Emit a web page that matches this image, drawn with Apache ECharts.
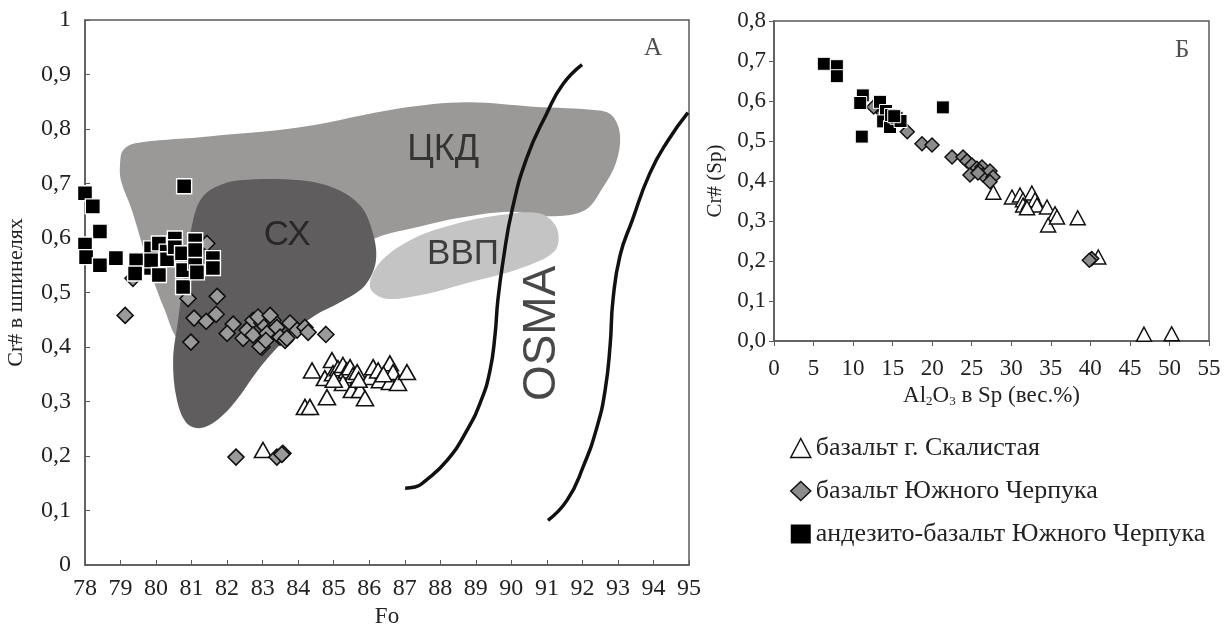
<!DOCTYPE html>
<html><head><meta charset="utf-8">
<script src="https://cdn.jsdelivr.net/npm/echarts@6/dist/echarts.min.js"></script>
<style>html,body{margin:0;padding:0;background:#fff}#c{width:1229px;height:625px}</style>
</head><body><div id="c"></div>
<script>
// ---------- Panel A: Cr# in spinel vs Fo ----------
const fieldCKD = [[78.99,0.739],[79.07,0.761],[79.41,0.774],[81.24,0.785],[84.05,0.803],[86.87,0.838],[88.75,0.849],[90.61,0.841],[92.49,0.834],[92.86,0.823],[93.06,0.788],[92.95,0.739],[92.58,0.693],[92.07,0.651],[91.09,0.640],[89.96,0.648],[88.55,0.637],[87.43,0.621],[86.22,0.601],[85.18,0.568],[82.93,0.486],[81.24,0.431],[80.67,0.412],[80.25,0.467],[79.83,0.541],[79.32,0.651],[79.01,0.706]];
const fieldCX = [[81.24,0.669],[81.66,0.693],[82.36,0.706],[84.05,0.706],[85.04,0.691],[85.74,0.660],[86.08,0.614],[86.19,0.559],[85.88,0.513],[85.18,0.482],[84.47,0.458],[83.77,0.422],[82.98,0.367],[82.08,0.288],[81.38,0.253],[80.90,0.258],[80.59,0.302],[80.48,0.376],[80.62,0.449],[80.81,0.541],[81.01,0.623]];
const fieldVVP = [[86.02,0.510],[86.30,0.555],[87.15,0.596],[88.27,0.623],[89.68,0.642],[90.81,0.645],[91.28,0.618],[91.23,0.577],[90.24,0.544],[88.84,0.519],[87.43,0.495],[86.44,0.489]];
const curveOSMA1 = [[87.01,0.141],[87.29,0.143],[87.57,0.154],[88.19,0.192],[88.75,0.247],[89.15,0.302],[89.40,0.357],[89.54,0.422],[89.62,0.486],[89.77,0.559],[90.02,0.651],[90.44,0.748],[91.00,0.829],[91.45,0.882],[91.99,0.918]];
const curveOSMA2 = [[91.03,0.082],[91.57,0.119],[92.02,0.180],[92.41,0.253],[92.64,0.321],[92.78,0.403],[92.86,0.486],[93.06,0.568],[93.40,0.632],[93.90,0.719],[94.41,0.779],[94.97,0.830]];
const fieldLabels = [
  {name:'ЦКД', value:[88.08,0.761], size:36, rotate:0},
  {name:'СХ', value:[83.69,0.605], size:35, rotate:0},
  {name:'ВВП', value:[88.64,0.570], size:35, rotate:0},
  {name:'OSMA', value:[90.86,0.425], size:46, rotate:90}
];
const leftTriangles = [[84.39,0.357],[84.19,0.290],[84.33,0.290],[84.95,0.376],[84.75,0.343],[84.81,0.308],[84.98,0.352],[85.12,0.361],[85.26,0.367],[85.37,0.357],[85.46,0.363],[85.54,0.348],[85.26,0.334],[85.66,0.354],[85.51,0.321],[85.74,0.321],[85.88,0.306],[86.02,0.345],[86.11,0.363],[86.25,0.357],[86.30,0.339],[86.58,0.370],[86.58,0.336],[86.67,0.354],[86.81,0.334],[87.06,0.354],[83.01,0.211],[85.00,0.340],[85.70,0.340],[86.40,0.350]];
const leftDiamonds = [[79.13,0.458],[80.90,0.489],[81.72,0.493],[79.35,0.526],[81.43,0.590],[81.07,0.453],[81.41,0.447],[81.69,0.460],[80.98,0.409],[82.17,0.442],[82.00,0.425],[82.45,0.416],[82.56,0.431],[82.73,0.449],[82.73,0.422],[82.98,0.444],[82.98,0.400],[83.12,0.425],[83.29,0.449],[83.40,0.436],[83.49,0.418],[83.63,0.412],[83.68,0.416],[83.77,0.444],[83.97,0.431],[84.19,0.436],[84.28,0.427],[84.78,0.423],[82.87,0.455],[82.93,0.401],[83.09,0.412],[83.21,0.458],[82.25,0.198],[83.40,0.198],[83.57,0.205],[83.54,0.203]];
const leftSquares = [[78.00,0.682],[78.22,0.658],[78.42,0.612],[78.00,0.588],[78.03,0.565],[78.42,0.550],[78.87,0.563],[79.44,0.545],[79.44,0.559],[79.41,0.535],[79.86,0.545],[79.86,0.581],[79.86,0.559],[80.08,0.590],[80.08,0.532],[80.30,0.575],[80.31,0.561],[80.53,0.599],[80.53,0.583],[80.73,0.572],[80.76,0.541],[80.76,0.510],[81.10,0.555],[81.10,0.596],[81.10,0.578],[81.15,0.537],[81.60,0.563],[81.60,0.545],[80.79,0.695]];

// ---------- Panel Б: Cr# (Sp) vs Al2O3 ----------
const rightTriangles = [[27.73,0.372],[30.09,0.360],[31.10,0.365],[31.48,0.353],[31.50,0.340],[32.20,0.345],[32.60,0.370],[33.00,0.353],[33.25,0.340],[31.99,0.333],[34.52,0.335],[35.53,0.318],[34.66,0.290],[35.78,0.310],[38.40,0.308],[41.00,0.210],[46.78,0.017],[50.28,0.018]];
const rightDiamonds = [[12.60,0.585],[13.80,0.570],[16.85,0.523],[18.71,0.493],[19.98,0.490],[22.51,0.460],[23.90,0.460],[24.40,0.450],[25.03,0.440],[25.66,0.432],[26.30,0.435],[24.78,0.415],[26.00,0.425],[26.43,0.415],[27.31,0.425],[27.69,0.410],[27.31,0.398],[25.79,0.420],[40.17,0.206],[39.87,0.202]];
const rightSquares = [[6.30,0.693],[7.95,0.687],[7.95,0.662],[11.23,0.614],[11.10,0.511],[10.90,0.595],[13.40,0.598],[14.16,0.575],[13.80,0.549],[14.67,0.535],[14.80,0.565],[15.50,0.558],[16.00,0.550],[15.20,0.562],[21.35,0.584]];
const panelLabels = [{name:'А', value:[93.99,0.948]},{name:'Б', value:[51.6,0.7275]}];

const leftYTicks = ['0','0,1','0,2','0,3','0,4','0,5','0,6','0,7','0,8','0,9','1'];
const rightYTicks = ['0,0','0,1','0,2','0,3','0,4','0,5','0,6','0,7','0,8'];
const seriesNames = ['базальт г. Скалистая','базальт Южного Черпука','андезито-базальт Южного Черпука'];

const SERIF = '"Liberation Serif","Times New Roman",serif';
const SANS = '"Liberation Sans",Arial,sans-serif';
const AX = '#5a5a5a';

function polySeries(points, color){
  return {
    type:'custom', xAxisIndex:0, yAxisIndex:0, silent:true, z:1,
    data:[0],
    renderItem:function(params, api){
      const pts = points.map(p => api.coord(p));
      return {type:'polygon', shape:{points:pts, smooth:0.35}, style:{fill:color, stroke:null}};
    }
  };
}

const chart = echarts.init(document.getElementById('c'), null, {renderer:'canvas'});
const option = {
  animation:false,
  backgroundColor:'#fff',
  grid:[
    {left:85, top:20, width:604, height:545, show:true, borderColor:AX, borderWidth:1.5, backgroundColor:'transparent', containLabel:false, outerBoundsMode:'none'},
    {left:774, top:21, width:435, height:320, show:true, borderColor:AX, borderWidth:1.5, backgroundColor:'transparent', containLabel:false, outerBoundsMode:'none'}
  ],
  xAxis:[
    {type:'value', gridIndex:0, min:78, max:95, interval:1,
     name:'Fo', nameLocation:'middle', nameGap:40, nameTextStyle:{fontFamily:SERIF, fontSize:23, color:'#222'},
     axisLine:{lineStyle:{color:AX, width:1.5}}, axisTick:{inside:true, length:5, lineStyle:{color:AX}},
     axisLabel:{fontFamily:SERIF, fontSize:24, color:'#222', margin:12}, splitLine:{show:false}},
    {type:'value', gridIndex:1, min:0, max:55, interval:5,
     name:'Al{sub|2}O{sub|3} в Sp (вес.%)', nameLocation:'middle', nameGap:42,
     nameTextStyle:{fontFamily:SERIF, fontSize:23, color:'#222', rich:{sub:{fontFamily:SERIF, fontSize:13, color:'#222', verticalAlign:'bottom', padding:[11,0,0,0]}}},
     axisLine:{lineStyle:{color:AX, width:1.5}}, axisTick:{inside:false, length:5, lineStyle:{color:AX}},
     axisLabel:{fontFamily:SERIF, fontSize:23, color:'#222', margin:16}, splitLine:{show:false}},
  ],
  yAxis:[
    {type:'value', gridIndex:0, min:0, max:1, interval:0.1,
     name:'Cr# в шпинелях', nameLocation:'middle', nameGap:58, nameTextStyle:{fontFamily:SERIF, fontSize:22, color:'#222'},
     axisLine:{lineStyle:{color:AX, width:1.5}}, axisTick:{inside:true, length:5, lineStyle:{color:AX}},
     axisLabel:{fontFamily:SERIF, fontSize:24, color:'#222', margin:14,
       formatter:function(v){return leftYTicks[Math.round(v*10)];}}, splitLine:{show:false}},
    {type:'value', gridIndex:1, min:0, max:0.8, interval:0.1,
     name:'Cr# (Sp)', nameLocation:'middle', nameGap:48, nameTextStyle:{fontFamily:SERIF, fontSize:21, color:'#222'},
     axisLine:{lineStyle:{color:AX, width:1.5}}, axisTick:{inside:false, length:5, lineStyle:{color:AX}},
     axisLabel:{fontFamily:SERIF, fontSize:23, color:'#222', margin:8,
       formatter:function(v){return rightYTicks[Math.round(v*10)];}}, splitLine:{show:false}}
  ],
  legend:{
    orient:'vertical', left:785, top:429, itemGap:15, itemWidth:20, itemHeight:19,
    textStyle:{fontFamily:SERIF, fontSize:26, color:'#222', lineHeight:28},
    selectedMode:false,
    data:[
      {name:seriesNames[0], icon:'triangle', itemStyle:{color:'#fff', borderColor:'#111', borderWidth:1.5}},
      {name:seriesNames[1], icon:'diamond', itemStyle:{color:'#8c8c8c', borderColor:'#111', borderWidth:1.5}},
      {name:seriesNames[2], icon:'rect', itemStyle:{color:'#000', borderColor:'#000', borderWidth:0}}
    ]
  },
  series:[
    polySeries(fieldCKD, '#9b9998'),
    polySeries(fieldCX, '#5f5d5d'),
    polySeries(fieldVVP, '#c4c4c4'),
    {type:'line', xAxisIndex:0, yAxisIndex:0, data:curveOSMA1, smooth:0.5, symbol:'none', silent:true, z:3,
     lineStyle:{color:'#111', width:3.5}},
    {type:'line', xAxisIndex:0, yAxisIndex:0, data:curveOSMA2, smooth:0.5, symbol:'none', silent:true, z:3,
     lineStyle:{color:'#111', width:3.5}},
    {type:'scatter', xAxisIndex:0, yAxisIndex:0, silent:true, z:4, symbolSize:0,
     data:fieldLabels.map(d => ({name:d.name, value:d.value,
       label:{show:true, position:'inside', formatter:'{b}', fontFamily:SANS, fontSize:d.size, color:'#1a1a1a', rotate:d.rotate}}))},
    {type:'scatter', name:seriesNames[0], xAxisIndex:0, yAxisIndex:0, data:leftTriangles, symbol:'triangle', symbolSize:[17,15], z:5,
     itemStyle:{color:'#fff', borderColor:'#111', borderWidth:1.6, opacity:1}},
    {type:'scatter', name:seriesNames[1], xAxisIndex:0, yAxisIndex:0, data:leftDiamonds, symbol:'diamond', symbolSize:16, z:6,
     itemStyle:{color:'#9a9a9a', borderColor:'#111', borderWidth:1.6, opacity:1}},
    {type:'scatter', name:seriesNames[2], xAxisIndex:0, yAxisIndex:0, data:leftSquares, symbol:'rect', symbolSize:15, z:7,
     itemStyle:{color:'#000', borderColor:'#fff', borderWidth:1.4, opacity:1}},
    {type:'scatter', name:seriesNames[0], xAxisIndex:1, yAxisIndex:1, data:rightTriangles, symbol:'triangle', symbolSize:[15,14], z:5,
     itemStyle:{color:'#fff', borderColor:'#111', borderWidth:1.5, opacity:1}},
    {type:'scatter', name:seriesNames[1], xAxisIndex:1, yAxisIndex:1, data:rightDiamonds, symbol:'diamond', symbolSize:14, z:6,
     itemStyle:{color:'#8c8c8c', borderColor:'#111', borderWidth:1.5, opacity:1}},
    {type:'scatter', name:seriesNames[2], xAxisIndex:1, yAxisIndex:1, data:rightSquares, symbol:'rect', symbolSize:13, z:7,
     itemStyle:{color:'#000', borderColor:'#fff', borderWidth:1, opacity:1}},
    {type:'scatter', xAxisIndex:0, yAxisIndex:0, silent:true, z:8, symbolSize:0,
     data:[panelLabels[0]],
     label:{show:true, position:'inside', formatter:'{b}', fontFamily:SERIF, fontSize:25, color:'#222'}},
    {type:'scatter', xAxisIndex:1, yAxisIndex:1, silent:true, z:8, symbolSize:0,
     data:[panelLabels[1]],
     label:{show:true, position:'inside', formatter:'{b}', fontFamily:SERIF, fontSize:25, color:'#222'}}
  ]
};
chart.setOption(option);
</script></body></html>
